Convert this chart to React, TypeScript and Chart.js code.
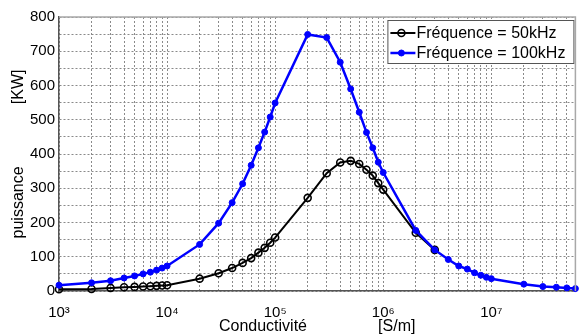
import React, { useEffect, useRef } from 'react';
import { Chart, registerables } from 'chart.js';

Chart.register(...registerables);

// Conductivity values (S/m)
const conductivite = [
  1e3, 2e3, 3e3, 4e3, 5e3, 6e3, 7e3, 8e3, 9e3,
  1e4, 2e4, 3e4, 4e4, 5e4, 6e4, 7e4, 8e4, 9e4,
  1e5, 2e5, 3e5, 4e5, 5e5, 6e5, 7e5, 8e5, 9e5,
  1e6, 2e6, 3e6, 4e6, 5e6, 6e6, 7e6, 8e6, 9e6,
  1e7, 2e7, 3e7, 4e7, 5e7, 6e7,
];

// Power (kW) at 50 kHz (beyond 3e6 it is hidden under the 100 kHz curve)
const puissance50kHz = [
  5, 6, 9, 11, 12, 13, 14, 15, 16,
  17, 36, 52, 67, 82, 96, 112, 126, 141,
  156, 272, 344, 375, 380, 371, 354, 337, 315,
  296, 170, 120, null, null, null, null, null, null,
  null, null, null, null, null, null,
];

// Power (kW) at 100 kHz
const puissance100kHz = [
  17, 24, 30, 38, 44, 50, 55, 61, 67,
  73, 136, 198, 258, 313, 367, 418, 464, 508,
  549, 749, 740, 668, 590, 522, 463, 418, 376,
  346, 177, 120, 92, 73, 64, 53, 46, 40,
  36, 20, 13, 11, 9, 7,
];

const seriesLabels = ['Fréquence = 50kHz', 'Fréquence = 100kHz'];

// x grid (tick) positions and labels
const xGridValues = [
  1e3, 2e3, 3e3, 4e3, 5e3, 6e3, 7e3, 8e3, 9e3,
  1e4, 2e4, 3e4, 4e4, 5e4, 6e4, 7e4, 8e4, 9e4,
  1e5, 2e5, 3e5, 4e5, 5e5, 6e5, 7e5, 8e5, 9e5,
  1e6, 2e6, 3e6, 4e6, 5e6, 6e6, 7e6, 8e6, 9e6,
  1e7, 2e7, 3e7, 4e7, 5e7, 6e7,
];
const xMajorValues = [1e3, 1e4, 1e5, 1e6, 1e7];
const xMajorLabels = ['10³', '10⁴', '10⁵', '10⁶', '10⁷'];

const yMin = 0;
const yMax = 800;
const yGridStep = 50;
const yLabelStep = 100;

const xTitle = 'Conductivité                [S/m]';
const yTitle = 'puissance              [KW]';

const FONT = '"Liberation Sans", Arial, Helvetica, sans-serif';

const framePlugin = {
  id: 'frame',
  afterDatasetsDraw(chart: any) {
    const { ctx, chartArea } = chart;
    ctx.save();
    ctx.strokeStyle = '#a8a8a8';
    ctx.lineWidth = 1.5;
    ctx.beginPath();
    ctx.moveTo(chartArea.left, chartArea.top);
    ctx.lineTo(chartArea.right, chartArea.top);
    ctx.lineTo(chartArea.right, chartArea.bottom);
    ctx.stroke();
    ctx.restore();
  },
};

const legendPlugin = {
  id: 'boxLegend',
  afterDraw(chart: any) {
    const { ctx, chartArea } = chart;
    const w = 187;
    const h = 44;
    const x0 = chartArea.right - 188;
    const y0 = chartArea.top + 3;
    ctx.save();
    ctx.fillStyle = '#ffffff';
    ctx.fillRect(x0, y0, w, h);
    ctx.strokeStyle = '#555555';
    ctx.lineWidth = 1;
    ctx.strokeRect(x0 + 0.5, y0 + 0.5, w - 1, h - 1);
    chart.data.datasets.forEach((ds: any, i: number) => {
      const cy = y0 + 13 + i * 20;
      ctx.strokeStyle = ds.borderColor;
      ctx.lineWidth = ds.borderWidth;
      ctx.beginPath();
      ctx.moveTo(x0 + 3, cy);
      ctx.lineTo(x0 + 28, cy);
      ctx.stroke();
      ctx.beginPath();
      ctx.arc(x0 + 14, cy, ds.pointRadius, 0, Math.PI * 2);
      if (ds.pointBackgroundColor !== 'rgba(0,0,0,0)') {
        ctx.fillStyle = ds.pointBackgroundColor;
        ctx.fill();
      }
      ctx.lineWidth = ds.pointBorderWidth;
      ctx.strokeStyle = ds.pointBorderColor;
      ctx.stroke();
      ctx.fillStyle = '#000';
      ctx.font = `16px ${FONT}`;
      ctx.textBaseline = 'middle';
      ctx.textAlign = 'left';
      ctx.fillText(ds.label, x0 + 29, cy + 1);
    });
    ctx.restore();
  },
};

export default function App() {
  const canvasRef = useRef<HTMLCanvasElement | null>(null);

  useEffect(() => {
    document.body.style.margin = '0';
    const canvas = canvasRef.current;
    if (!canvas) return;
    const chart = new Chart(canvas, {
      type: 'line',
      data: {
        datasets: [
          {
            label: seriesLabels[0],
            data: conductivite.map((x, i) => ({ x, y: puissance50kHz[i] })),
            borderColor: '#000000',
            borderWidth: 2,
            pointRadius: 3.5,
            pointBorderWidth: 1.6,
            pointBorderColor: '#000000',
            pointBackgroundColor: 'rgba(0,0,0,0)',
            pointStyle: 'circle',
            tension: 0,
            spanGaps: false,
            order: 1,
            clip: false as any,
          },
          {
            label: seriesLabels[1],
            data: conductivite.map((x, i) => ({ x, y: puissance100kHz[i] })),
            borderColor: '#0000ff',
            borderWidth: 2.5,
            pointRadius: 3,
            pointBorderWidth: 1,
            pointBorderColor: '#0000ff',
            pointBackgroundColor: '#0000ff',
            pointStyle: 'circle',
            tension: 0,
            order: 0,
            clip: false as any,
          },
        ],
      },
      options: {
        animation: false,
        responsive: false,
        devicePixelRatio: 1,
        layout: { padding: { top: 17, right: 1, left: 0, bottom: 0 } },
        plugins: {
          legend: { display: false },
          tooltip: { enabled: false },
        },
        scales: {
          x: {
            type: 'logarithmic',
            min: conductivite[0],
            max: conductivite[conductivite.length - 1],
            afterBuildTicks: (scale: any) => {
              scale.ticks = xGridValues.map((v) => ({ value: v }));
            },
            afterFit: (scale: any) => {
              scale.height = 45;
              scale.paddingRight = 0;
              scale.paddingLeft = 0;
            },
            ticks: {
              autoSkip: false,
              maxRotation: 0,
              minRotation: 0,
              padding: 13,
              color: '#000',
              font: { family: FONT, size: 15 },
              callback: (value: any) => {
                const idx = xMajorValues.indexOf(Number(value));
                return idx >= 0 ? xMajorLabels[idx] : '';
              },
            },
            grid: {
              color: '#8a8a8a',
              lineWidth: 1,
              drawTicks: false,
            },
            border: { display: true, color: '#555', width: 1.5, dash: [2, 2] },
            title: {
              display: true,
              text: xTitle,
              color: '#000',
              font: { family: FONT, size: 16 },
              padding: { top: 0, bottom: 0 },
            },
          },
          y: {
            type: 'linear',
            min: yMin,
            max: yMax,
            afterFit: (scale: any) => {
              scale.width = 59;
            },
            ticks: {
              stepSize: yGridStep,
              autoSkip: false,
              padding: 4,
              color: '#000',
              font: { family: FONT, size: 15 },
              callback: (value: any) =>
                Number(value) % yLabelStep === 0 ? String(value) : '',
            },
            grid: {
              color: '#8a8a8a',
              lineWidth: 1,
              drawTicks: false,
            },
            border: { display: true, color: '#555', width: 1.5, dash: [2, 2] },
            title: {
              display: true,
              text: yTitle,
              color: '#000',
              font: { family: FONT, size: 16 },
              padding: { top: 9, bottom: 0 },
            },
          },
        },
      } as any,
      plugins: [framePlugin, legendPlugin],
    });
    return () => chart.destroy();
  }, []);

  return (
    <div style={{ width: 581, height: 336, position: 'relative' }}>
      <canvas ref={canvasRef} width={581} height={336} style={{ display: 'block' }} />
    </div>
  );
}
